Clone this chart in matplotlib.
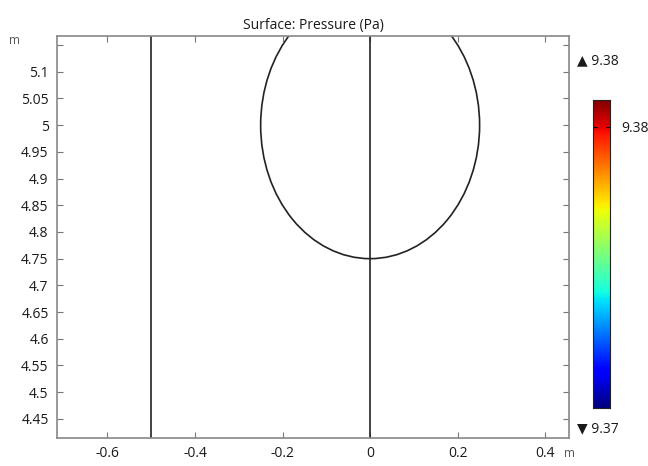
import matplotlib.pyplot as plt
import matplotlib.patches as patches
import numpy as np

# geometry of the model (m)
x_range = [-0.715, 0.454]
y_range = [4.414, 5.167]
wall_x = [-0.5, 0.0]
bubble_center = (0.0, 5.0)
bubble_size = (0.5, 0.5)

x_ticks = [-0.6, -0.4, -0.2, 0, 0.2, 0.4]
x_labels = ["-0.6", "-0.4", "-0.2", "0", "0.2", "0.4"]
y_ticks = [4.45, 4.5, 4.55, 4.6, 4.65, 4.7, 4.75, 4.8, 4.85, 4.9, 4.95, 5.0, 5.05, 5.1, 5.15]
y_labels = ["4.45", "4.5", "4.55", "4.6", "4.65", "4.7", "4.75", "4.8", "4.85", "4.9",
            "4.95", "5", "5.05", "5.1", ""]

# pressure range (Pa)
p_min = 9.3705
p_max = 9.3809
cbar_ticks = [9.38]

plt.rcParams['font.family'] = ['Open Sans', 'DejaVu Sans']

fig = plt.figure(figsize=(6.48, 4.66), dpi=100)
ax = fig.add_axes([0.088, 0.060, 0.790, 0.8627])

for xw in wall_x:
    ax.axvline(xw, color='#222222', lw=1.2)
ax.add_patch(patches.Ellipse(bubble_center, bubble_size[0], bubble_size[1],
                             fill=False, edgecolor='#222222', lw=1.2))

ax.set_xlim(x_range)
ax.set_ylim(y_range)
ax.set_xticks(x_ticks)
ax.set_xticklabels(x_labels)
ax.set_yticks(y_ticks)
ax.set_yticklabels(y_labels)
ax.tick_params(direction='in', length=4, width=0.8, color='#777777',
               top=True, right=True, labelsize=10, labelcolor='#1a1a1a', pad=6)
for s in ax.spines.values():
    s.set_color('#888888')
    s.set_linewidth(1.2)
ax.set_title("Surface: Pressure (Pa)", fontsize=10, color='#1a1a1a', pad=5)

fig.text(0.014, 0.913, "m", fontsize=8.5, color='#555555', va='center')
fig.text(0.871, 0.027, "m", fontsize=8.5, color='#555555', va='center')

# colorbar
cax = fig.add_axes([0.915, 0.1245, 0.026, 0.661])
grad = np.linspace(p_min, p_max, 256).reshape(-1, 1)
cax.imshow(grad, aspect='auto', cmap='jet', origin='lower',
           extent=[0, 1, p_min, p_max])
cax.set_xticks([])
cax.set_yticks(cbar_ticks)
cax.set_yticklabels([f"{t:.2f}" for t in cbar_ticks])
cax.yaxis.tick_right()
cax.tick_params(axis='y', direction='in', length=3, left=True, right=True,
                labelsize=10, labelcolor='#1a1a1a', pad=8)
for s in cax.spines.values():
    s.set_color('#222222')
    s.set_linewidth(0.8)

fig.text(0.890, 0.869, "\u25B2 %.2f" % p_max, fontsize=10, color='#1a1a1a', va='center')
fig.text(0.890, 0.080, "\u25BC %.2f" % p_min, fontsize=10, color='#1a1a1a', va='center')

fig.savefig("out.png", dpi=100)
